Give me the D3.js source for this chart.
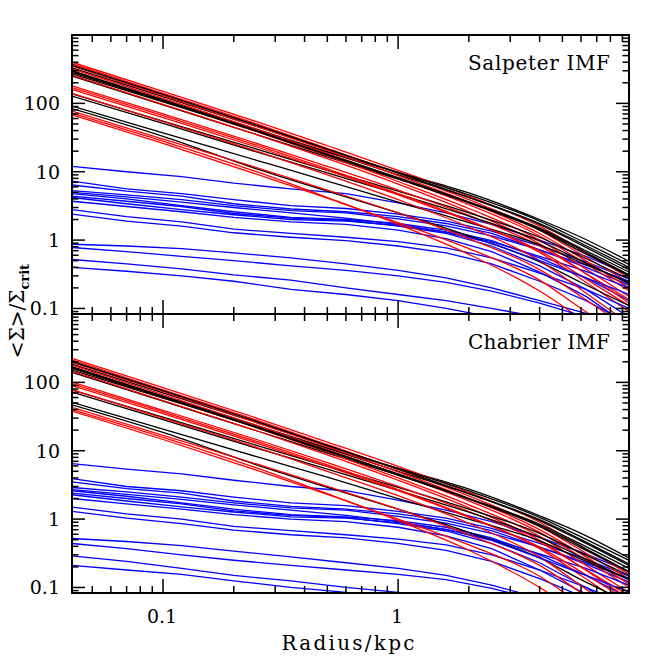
<!DOCTYPE html>
<html><head><meta charset="utf-8">
<script src="https://cdn.jsdelivr.net/npm/d3@7"></script>
<style>body{margin:0;background:#fff} svg{display:block}</style>
</head><body><svg id="c" width="664" height="664"></svg>
<script>
// ---------- data ----------
const radiiSmooth = [0.041, 0.1, 0.25, 0.5, 1, 2, 4, 6, 9.6];
const radiiBlue = [0.041, 0.07, 0.12, 0.2, 0.35, 0.6, 1, 1.6, 2.5, 4, 6.3, 9.6];

const salpeterBlack = [
  [270, 105, 40, 19.5, 9.8, 4.9, 2.0, 1.1, 0.49],
  [330, 125, 46, 21, 9.8, 4.6, 1.9, 0.98, 0.44],
  [300, 113, 42, 19.5, 9.0, 4.2, 1.75, 0.9, 0.40],
  [360, 135, 48, 21.5, 9.6, 4.2, 1.7, 0.85, 0.37],
  [250, 95, 35, 16.5, 7.8, 3.6, 1.5, 0.76, 0.34],
  [285, 107, 39, 17.5, 7.9, 3.5, 1.4, 0.68, 0.30],
  [138, 55, 21.5, 10.5, 5.2, 2.5, 1.1, 0.58, 0.27],
  [128, 51, 19.5, 9.6, 4.7, 2.25, 0.97, 0.5, 0.23],
  [91, 37, 14.7, 7.3, 3.6, 1.8, 0.85, 0.47, 0.24],
  [84, 33, 11, 5.2, 2.5, 1.15, 0.48, 0.24, 0.11],
  [300, 110, 40, 18, 8.2, 3.6, 1.45, 0.72, 0.31]
];
const salpeterRed = [
  [400, 150, 54, 24, 10.5, 4.4, 1.6, 0.72, 0.28],
  [380, 140, 50, 22, 9.5, 3.9, 1.4, 0.62, 0.24],
  [350, 130, 46, 20.5, 8.8, 3.6, 1.25, 0.55, 0.2],
  [320, 118, 42, 18.5, 8.0, 3.3, 1.15, 0.5, 0.18],
  [290, 108, 38.5, 17, 7.2, 2.9, 1.0, 0.42, 0.15],
  [260, 97, 35, 15.5, 6.6, 2.6, 0.88, 0.36, 0.12],
  [180, 70, 26, 12, 5.4, 2.3, 0.82, 0.36, 0.135],
  [170, 66, 24.5, 11, 4.8, 1.95, 0.66, 0.27, 0.09],
  [160, 62, 23, 10.5, 4.6, 1.9, 0.7, 0.3, 0.11],
  [140, 54, 20, 9, 3.9, 1.55, 0.5, 0.19, 0.06],
  [77, 30, 11.5, 5.4, 2.5, 1.05, 0.37, 0.15, 0.05],
  [72, 28, 10, 4.2, 1.7, 0.62, 0.18, 0.07, 0.02],
  [68, 26, 9.2, 4.1, 1.8, 0.75, 0.26, 0.1, 0.035]
];
const salpeterBlue = [
  [12, 10, 8.5, 6.8, 5.6, 4.8, 3.5, 2.5, 1.7, 1.0, 0.58, 0.31],
  [7.3, 5.6, 4.8, 3.9, 3.2, 2.9, 2.4, 1.9, 1.35, 0.82, 0.48, 0.27],
  [6.4, 5.2, 4.4, 3.4, 2.85, 2.6, 2.2, 1.75, 1.25, 0.72, 0.4, 0.22],
  [5.3, 4.6, 3.9, 3.2, 2.7, 2.5, 2.05, 1.62, 1.15, 0.72, 0.43, 0.25],
  [4.8, 4.0, 3.2, 2.6, 2.15, 2.0, 1.75, 1.4, 0.98, 0.55, 0.28, 0.13],
  [4.4, 3.7, 3.1, 2.45, 2.1, 1.95, 1.6, 1.25, 0.82, 0.42, 0.19, 0.075],
  [4.2, 3.4, 2.8, 2.35, 2.0, 1.9, 1.65, 1.32, 0.95, 0.58, 0.35, 0.2],
  [3.7, 3.1, 2.6, 2.15, 1.85, 1.7, 1.4, 1.05, 0.68, 0.34, 0.15, 0.055],
  [2.8, 2.2, 1.85, 1.45, 1.25, 1.1, 0.95, 0.77, 0.55, 0.33, 0.19, 0.1],
  [2.4, 1.9, 1.6, 1.28, 1.1, 0.98, 0.82, 0.65, 0.45, 0.25, 0.13, 0.06],
  [5.0, 4.3, 3.6, 3.0, 2.5, 2.1, 1.7, 1.3, 0.9, 0.5, 0.28, 0.16],
  [0.87, 0.82, 0.75, 0.65, 0.55, 0.45, 0.36, 0.28, 0.2, 0.13, 0.085, 0.05],
  [0.78, 0.68, 0.58, 0.5, 0.42, 0.36, 0.3, 0.24, 0.18, 0.12, 0.075, 0.045],
  [0.52, 0.45, 0.38, 0.31, 0.26, 0.2, 0.16, 0.13, 0.1, 0.075, 0.05, 0.03],
  [0.40, 0.35, 0.3, 0.25, 0.19, 0.16, 0.13, 0.1, 0.075, 0.05, 0.03, 0.02]
];

const chabrierBlack = [
  [151, 59, 22.4, 10.9, 5.5, 2.74, 1.12, 0.62, 0.27],
  [185, 70, 25.8, 11.8, 5.5, 2.58, 1.06, 0.55, 0.25],
  [168, 63, 23.5, 10.9, 5.0, 2.35, 0.98, 0.5, 0.22],
  [202, 76, 26.9, 12.0, 5.4, 2.35, 0.95, 0.48, 0.21],
  [140, 53, 19.6, 9.2, 4.4, 2.0, 0.84, 0.43, 0.19],
  [160, 60, 21.8, 9.8, 4.4, 1.96, 0.78, 0.38, 0.17],
  [77, 31, 12, 5.9, 2.9, 1.4, 0.62, 0.32, 0.15],
  [72, 28.6, 10.9, 5.4, 2.63, 1.26, 0.54, 0.28, 0.13],
  [51, 20.7, 8.2, 4.1, 2.0, 1.0, 0.48, 0.26, 0.13],
  [47, 18.5, 6.2, 2.9, 1.4, 0.64, 0.27, 0.13, 0.06],
  [168, 62, 22.4, 10.1, 4.6, 2.0, 0.81, 0.4, 0.17]
];
const chabrierRed = [
  [224, 84, 30, 13.4, 5.9, 2.46, 0.9, 0.4, 0.157],
  [213, 78, 28, 12.3, 5.3, 2.18, 0.78, 0.35, 0.134],
  [196, 73, 25.8, 11.5, 4.9, 2.0, 0.7, 0.31, 0.112],
  [179, 66, 23.5, 10.4, 4.5, 1.85, 0.64, 0.28, 0.1],
  [162, 60, 21.6, 9.5, 4.0, 1.62, 0.56, 0.235, 0.084],
  [146, 54, 19.6, 8.7, 3.7, 1.46, 0.49, 0.2, 0.067],
  [101, 39, 14.6, 6.7, 3.0, 1.29, 0.46, 0.2, 0.076],
  [95, 37, 13.7, 6.2, 2.7, 1.09, 0.37, 0.15, 0.05],
  [90, 35, 12.9, 5.9, 2.6, 1.06, 0.39, 0.17, 0.062],
  [78, 30, 11.2, 5.0, 2.2, 0.87, 0.28, 0.106, 0.034],
  [43, 16.8, 6.4, 3.0, 1.4, 0.59, 0.21, 0.084, 0.028],
  [40, 15.7, 5.6, 2.35, 0.95, 0.35, 0.1, 0.039, 0.011],
  [38, 14.6, 5.2, 2.3, 1.0, 0.42, 0.146, 0.056, 0.02]
];
const chabrierBlue = [
  [6.5, 5.4, 4.6, 3.7, 3.0, 2.6, 1.9, 1.35, 0.92, 0.54, 0.31, 0.17],
  [3.9, 3.0, 2.6, 2.1, 1.73, 1.57, 1.3, 1.03, 0.73, 0.44, 0.26, 0.146],
  [3.5, 2.8, 2.4, 1.84, 1.54, 1.4, 1.19, 0.95, 0.68, 0.39, 0.22, 0.12],
  [2.9, 2.5, 2.1, 1.73, 1.46, 1.35, 1.1, 0.87, 0.62, 0.39, 0.23, 0.135],
  [2.6, 2.16, 1.73, 1.4, 1.16, 1.08, 0.95, 0.76, 0.53, 0.3, 0.15, 0.07],
  [2.4, 2.0, 1.67, 1.32, 1.13, 1.05, 0.86, 0.67, 0.44, 0.23, 0.1, 0.04],
  [2.27, 1.84, 1.51, 1.27, 1.08, 1.03, 0.89, 0.71, 0.51, 0.31, 0.19, 0.108],
  [2.0, 1.67, 1.4, 1.16, 1.0, 0.92, 0.76, 0.57, 0.37, 0.18, 0.08, 0.03],
  [1.5, 1.19, 1.0, 0.78, 0.68, 0.59, 0.51, 0.42, 0.3, 0.18, 0.1, 0.054],
  [1.3, 1.03, 0.86, 0.69, 0.59, 0.53, 0.44, 0.35, 0.24, 0.135, 0.07, 0.032],
  [2.7, 2.3, 1.94, 1.62, 1.35, 1.13, 0.92, 0.7, 0.49, 0.27, 0.15, 0.086],
  [0.52, 0.47, 0.41, 0.34, 0.28, 0.23, 0.19, 0.15, 0.108, 0.07, 0.046, 0.027],
  [0.44, 0.37, 0.3, 0.25, 0.21, 0.18, 0.155, 0.13, 0.097, 0.065, 0.04, 0.024],
  [0.29, 0.24, 0.19, 0.15, 0.125, 0.1, 0.085, 0.07, 0.055, 0.039, 0.025, 0.014],
  [0.21, 0.18, 0.155, 0.125, 0.1, 0.085, 0.07, 0.055, 0.041, 0.028, 0.017, 0.011]
];

const panelTitles = ["Salpeter IMF", "Chabrier IMF"];
const yTickLabels = ["0.1", "1", "10", "100"];
const yTickValues = [0.1, 1, 10, 100];
const xTickLabels = ["0.1", "1"];
const xTickValues = [0.1, 1];
const xAxisTitle = "Radius/kpc";

// ---------- layout ----------
const svg = d3.select("#c");
const L = 72, R = 629, PH = 279;
const panelTops = [35, 314];
const x = d3.scaleLog().domain([0.041, 9.6]).range([L, R]);
const yDomain = [0.083, 1000];
const font = "'DejaVu Serif', serif";

const panelData = [
  {black: salpeterBlack, red: salpeterRed, blue: salpeterBlue},
  {black: chabrierBlack, red: chabrierRed, blue: chabrierBlue}
];

const xMinor = x.ticks().filter(v => v >= 0.041 && v <= 9.6);
panelData.forEach((pd, i) => {
  const top = panelTops[i], bot = top + PH;
  const y = d3.scaleLog().domain(yDomain).range([bot, top]);
  const clipId = "clip" + i;
  svg.append("clipPath").attr("id", clipId).append("rect")
    .attr("x", L).attr("y", top).attr("width", R - L).attr("height", PH);
  const g = svg.append("g").attr("clip-path", `url(#${clipId})`);
  const smooth = d3.line().x((d, k) => x(radiiSmooth[k])).y(d => y(d)).curve(d3.curveMonotoneX);
  const lin = d3.line().x((d, k) => x(radiiBlue[k])).y(d => y(d)).curve(d3.curveLinear);
  const n = Math.max(pd.black.length, pd.red.length, pd.blue.length);
  for (let k = 0; k < n; k++) {
    if (pd.blue[k]) g.append("path").attr("d", lin(pd.blue[k])).attr("fill", "none").attr("stroke", "#0000ff").attr("stroke-width", 1.3);
    if (pd.black[k]) g.append("path").attr("d", smooth(pd.black[k])).attr("fill", "none").attr("stroke", "#000").attr("stroke-width", 1.3);
    if (pd.red[k]) g.append("path").attr("d", smooth(pd.red[k])).attr("fill", "none").attr("stroke", "#ff0000").attr("stroke-width", 1.3);
  }

  // ticks
  const tk = svg.append("g").attr("stroke", "#000").attr("stroke-width", 1.5);
  const yAll = y.ticks().filter(v => v >= yDomain[0] && v <= yDomain[1]);
  yAll.forEach(v => {
    const major = Math.abs(Math.log10(v) - Math.round(Math.log10(v))) < 1e-9;
    const len = major ? 13 : 6.5;
    const yy = y(v);
    tk.append("line").attr("x1", L).attr("x2", L + len).attr("y1", yy).attr("y2", yy);
    tk.append("line").attr("x1", R).attr("x2", R - len).attr("y1", yy).attr("y2", yy);
  });
  xMinor.forEach(v => {
    const major = Math.abs(Math.log10(v) - Math.round(Math.log10(v))) < 1e-9;
    const len = major ? 14 : 7;
    const xx = x(v);
    tk.append("line").attr("x1", xx).attr("x2", xx).attr("y1", top).attr("y2", top + len);
    tk.append("line").attr("x1", xx).attr("x2", xx).attr("y1", bot).attr("y2", bot - len);
  });

  // frame
  svg.append("rect").attr("x", L).attr("y", top).attr("width", R - L).attr("height", PH)
    .attr("fill", "none").attr("stroke", "#000").attr("stroke-width", 2);

  // y tick labels
  yTickValues.forEach((v, j) => {
    svg.append("text").attr("x", 60).attr("y", y(v) + 7)
      .attr("text-anchor", "end").attr("font-family", font).attr("font-size", 19)
      .text(yTickLabels[j]);
  });

  // panel title
  svg.append("text").attr("x", 610).attr("y", top + 35)
    .attr("text-anchor", "end").attr("font-family", font).attr("font-size", 20)
    .attr("textLength", 142).attr("lengthAdjust", "spacing")
    .text(panelTitles[i]);
});

// x tick labels
xTickValues.forEach((v, j) => {
  svg.append("text").attr("x", x(v) - 1).attr("y", 623)
    .attr("text-anchor", "middle").attr("font-family", font).attr("font-size", 19)
    .text(xTickLabels[j]);
});
svg.append("text").attr("x", 348).attr("y", 650)
  .attr("text-anchor", "middle").attr("font-family", font).attr("font-size", 20)
  .attr("textLength", 133).attr("lengthAdjust", "spacing")
  .text(xAxisTitle);

// y axis title
const yt = svg.append("text").attr("transform", "translate(24,311) rotate(-90)")
  .attr("text-anchor", "middle").attr("font-family", font).attr("font-size", 20);
yt.append("tspan").text("<Σ>/Σ");
yt.append("tspan").attr("dy", 5).attr("font-size", 13).attr("font-weight", "bold").text("crit");
</script></body></html>
